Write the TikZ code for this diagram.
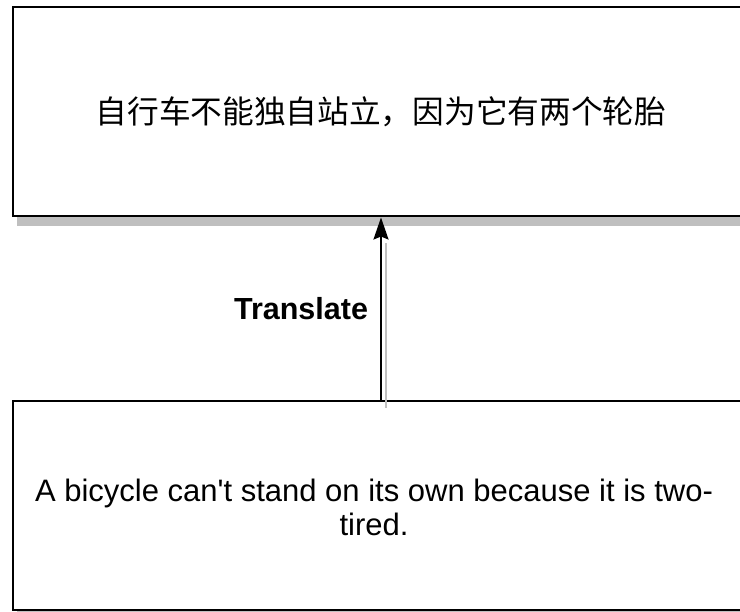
\documentclass[tikz,border=0pt]{standalone}
\usepackage{fontspec}
\setmainfont{Liberation Sans}
\newfontfamily\cjk{Noto Sans CJK SC}
\usetikzlibrary{arrows.meta,shadows}
\tikzset{
  box/.style={draw=black, line width=2pt, fill=white, minimum width=736pt, minimum height=209pt, inner sep=0pt, align=center, font=\fontsize{31}{34}\selectfont},
  boxshadow/.style={drop shadow={shadow xshift=4pt, shadow yshift=-10pt, fill=black!25, opacity=1}},
  conn/.style={draw=black, line width=2pt, -{Stealth[length=22pt,width=15pt,inset=3pt]}},
  connshadow/.style={draw=black!25, line width=2pt},
  lbl/.style={font=\fontsize{30.5}{34}\selectfont\bfseries, anchor=east, inner sep=0pt}
}
\begin{document}
\begin{tikzpicture}[x={(1pt,0)}, y={(0,-1pt)}]
  \useasboundingbox (0,0) rectangle (740,612);
  \clip (0,0) rectangle (740,612);
  \node[box, boxshadow] (bot) at (381,505.5) {\makebox[0pt]{\raisebox{-12.75pt}[0pt][0pt]{\begin{tabular}{@{}c@{}}A bicycle can\textquotesingle t stand on its own because it is two-\\tired.\end{tabular}}\hspace*{14pt}}};
  \node[box, boxshadow] (top) at (381,112) {\fontsize{31.7}{34}\selectfont\cjk 自行车不能独自站立，因为它有两个轮胎};
  \draw[connshadow] ([xshift=5pt,yshift=-8pt]bot.north) -- ([xshift=5pt,yshift=-26pt]top.south);
  \draw[conn] (bot.north) -- node[lbl, xshift=-12pt] {Translate} (top.south);
\end{tikzpicture}
\end{document}
